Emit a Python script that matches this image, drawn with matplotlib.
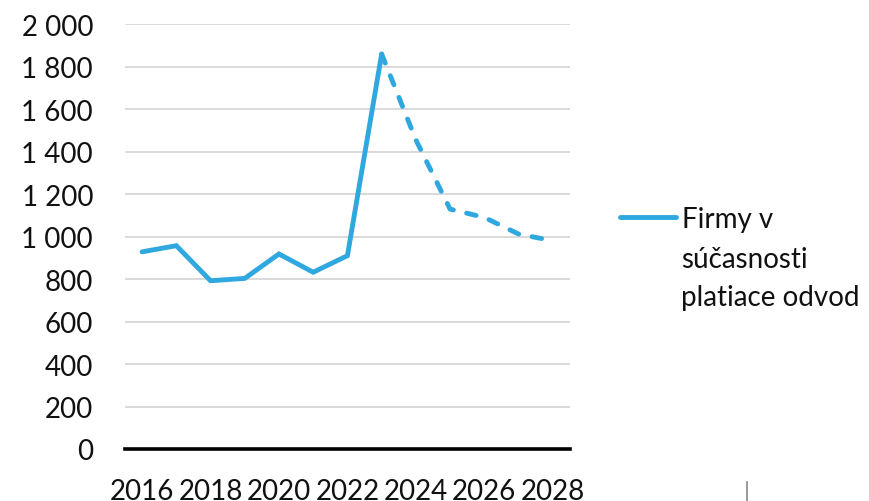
import matplotlib.pyplot as plt
from matplotlib.lines import Line2D

plt.rcParams['font.family'] = ['Lato', 'DejaVu Sans']

years_actual = [2016, 2017, 2018, 2019, 2020, 2021, 2022, 2023]
firms_actual = [928, 957, 792, 803, 918, 832, 910, 1859]
years_forecast = [2023, 2024, 2025, 2026, 2027, 2028]
firms_forecast = [1859, 1455, 1129, 1090, 1012, 980]
xticks = [2016, 2018, 2020, 2022, 2024, 2026, 2028]
yticks = [0, 200, 400, 600, 800, 1000, 1200, 1400, 1600, 1800, 2000]
legend_lines = ['Firmy v', 'súčasnosti', 'platiace odvod']

blue = '#2fa8df'
fs = 20

fig = plt.figure(figsize=(8.69, 5.02), dpi=100)
ax = fig.add_axes([0.1438, 0.1036, 0.512, 0.8464])

ax.plot(years_actual, firms_actual, color=blue, lw=3.5, solid_capstyle='round',
        solid_joinstyle='miter', label=legend_lines[0], zorder=3)
ax.plot(years_forecast, firms_forecast, color=blue, lw=3.5, dashes=(2.0, 2.8),
        dash_capstyle='round', zorder=3)

ax.set_xlim(2015.5, 2028.5)
ax.set_ylim(0, 2000)
ax.set_yticks(yticks)
ax.set_yticklabels([f'{v:,}'.replace(',', ' ') for v in yticks])
ax.set_xticks(xticks)
ax.set_xticklabels([str(y) for y in xticks])
ax.tick_params(axis='both', length=0, labelsize=fs, colors='#111111')
ax.tick_params(axis='x', pad=21)
ax.tick_params(axis='y', pad=23)

ax.grid(axis='y', color='#d9d9d9', lw=1.4)
ax.set_axisbelow(True)
for s in ['top', 'right', 'left']:
    ax.spines[s].set_visible(False)
ax.spines['bottom'].set_color('black')
ax.spines['bottom'].set_linewidth(2.6)
ax.spines['bottom'].set_zorder(4)

leg = ax.legend(loc='center left', bbox_to_anchor=(0.7135, 0.5618), bbox_transform=fig.transFigure,
                frameon=False, prop={'size': fs}, handlelength=2.0,
                handletextpad=0.22, borderpad=0, borderaxespad=0, labelcolor='#111111')
# the label wraps onto two more lines below the handle
fig.text(0.7837, 1 - 268 / 502, legend_lines[1], fontsize=fs, color='#111111', va='baseline')
fig.text(0.7837, 1 - 306 / 502, legend_lines[2], fontsize=fs, color='#111111', va='baseline')

# small stray mark at the bottom right of the source image
fig.add_artist(Line2D([0.8597, 0.8597], [0.0, 0.038], color='#888888', lw=1.2))

fig.savefig('out.png', dpi=100)
